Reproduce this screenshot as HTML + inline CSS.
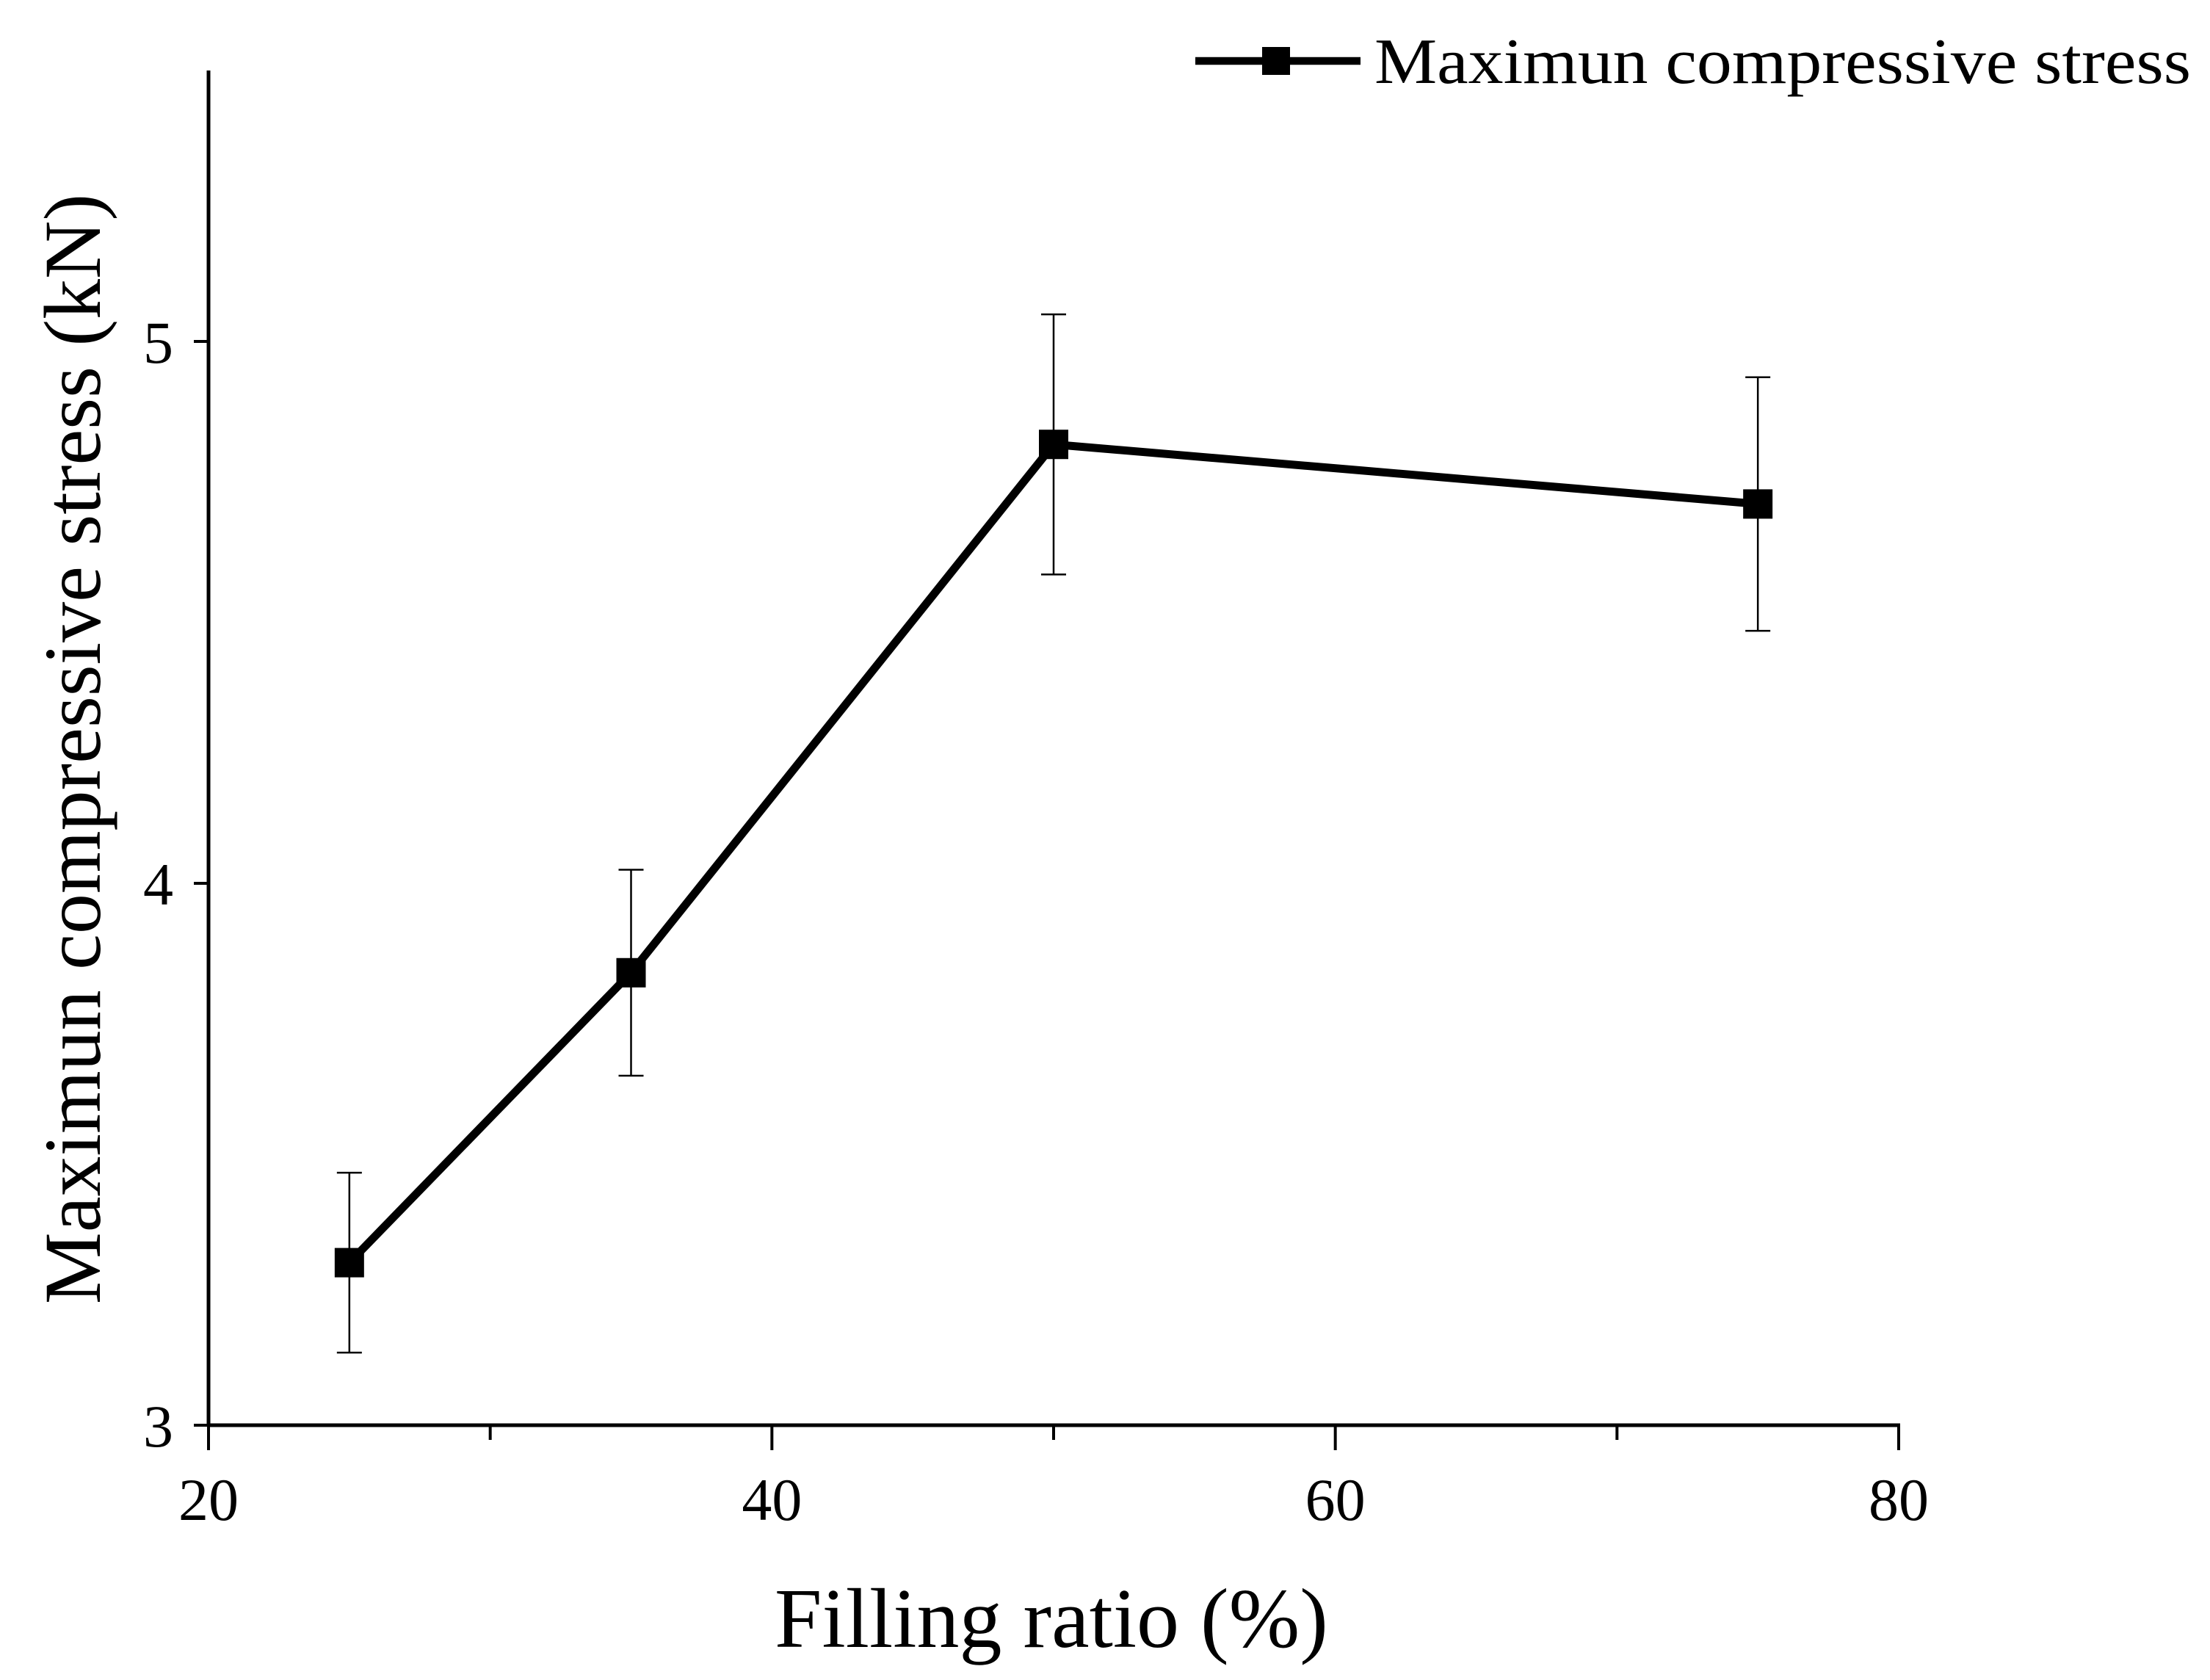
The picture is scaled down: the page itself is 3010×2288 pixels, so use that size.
<!DOCTYPE html>
<html><head><meta charset="utf-8"><style>html,body{margin:0;padding:0;background:#fff}svg{display:block}</style></head>
<body>
<svg id="chart" width="3010" height="2288" viewBox="0 0 3010 2288" xmlns="http://www.w3.org/2000/svg" font-family="'Liberation Serif', serif">
<g id="axes"></g>
<g id="series"></g>
<g>
  <line x1="1628" y1="83" x2="1853" y2="83" stroke="#000" stroke-width="10.5"/>
  <rect x="1719" y="64" width="38" height="38" fill="#000"/>
  <text x="1872" y="113" font-size="88" textLength="1112" lengthAdjust="spacingAndGlyphs">Maximun compressive stress</text>
</g>
<text x="1432" y="2243" font-size="116" text-anchor="middle">Filling ratio (%)</text>
<text transform="translate(136,1020) rotate(-90)" font-size="110" text-anchor="middle">Maximun compressive stress (kN)</text>
</svg>
<script>
const xVals = [25, 35, 50, 75];
const yVals = [3.30, 3.835, 4.81, 4.70];
const yErr = [0.166, 0.19, 0.24, 0.234];
const xTicks = [20, 40, 60, 80];
const xMinor = [30, 50, 70];
const yTicks = [3, 4, 5];

const NS = 'http://www.w3.org/2000/svg';
const X0 = 284, X1 = 2586, Y0 = 1941, Y1 = 465;
const xs = v => X0 + (v - 20) / 60 * (X1 - X0);
const ys = v => Y0 - (v - 3) / 2 * (Y0 - Y1);
function mk(tag, attrs, parent) {
  const e = document.createElementNS(NS, tag);
  for (const k in attrs) e.setAttribute(k, attrs[k]);
  parent.appendChild(e);
  return e;
}
const axes = document.getElementById('axes');
const series = document.getElementById('series');

let el = mk('line', {x1: X0, y1: Y0, x2: X0, y2: ys(5.5), stroke: '#000', 'stroke-width': 5}, axes);


el = mk('line', {x1: X0 - 2, y1: Y0, x2: X1 + 2, y2: Y0, stroke: '#000', 'stroke-width': 5}, axes);



xTicks.forEach(t => {
  const x = xs(t);
  const tk = mk('line', {x1: x, y1: Y0, x2: x, y2: Y0 + 34, stroke: '#000', 'stroke-width': 4}, axes);
  
  
  const lb = mk('text', {x: x, y: 2070, 'font-size': 82, 'text-anchor': 'middle'}, axes);
  lb.textContent = t;
  
  
});
xMinor.forEach(t => {
  const x = xs(t);
  const tk = mk('line', {x1: x, y1: Y0, x2: x, y2: Y0 + 20, stroke: '#000', 'stroke-width': 4}, axes);
  
  
});
yTicks.forEach(t => {
  const y = ys(t);
  const tk = mk('line', {x1: X0 - 20, y1: y, x2: X0, y2: y, stroke: '#000', 'stroke-width': 4}, axes);
  
  
  const lb = mk('text', {x: 236, y: y + 29, 'font-size': 82, 'text-anchor': 'end'}, axes);
  lb.textContent = t;
  
  
});

xVals.forEach((v, i) => {
  const x = xs(v), yt = ys(yVals[i] + yErr[i]), yb = ys(yVals[i] - yErr[i]);
  const g = mk('g', {stroke: '#000', 'stroke-width': 2.5}, series);
  
  
  mk('line', {x1: x, y1: yt, x2: x, y2: yb}, g);
  mk('line', {x1: x - 17, y1: yt, x2: x + 17, y2: yt}, g);
  mk('line', {x1: x - 17, y1: yb, x2: x + 17, y2: yb}, g);
});
const pts = xVals.map((v, i) => xs(v) + ',' + ys(yVals[i])).join(' ');
el = mk('polyline', {points: pts, fill: 'none', stroke: '#000', 'stroke-width': 11, 'stroke-linejoin': 'miter'}, series);


xVals.forEach((v, i) => {
  const m = mk('rect', {x: xs(v) - 20, y: ys(yVals[i]) - 20, width: 40, height: 40, fill: '#000'}, series);
  
  
});
</script>
</body></html>
